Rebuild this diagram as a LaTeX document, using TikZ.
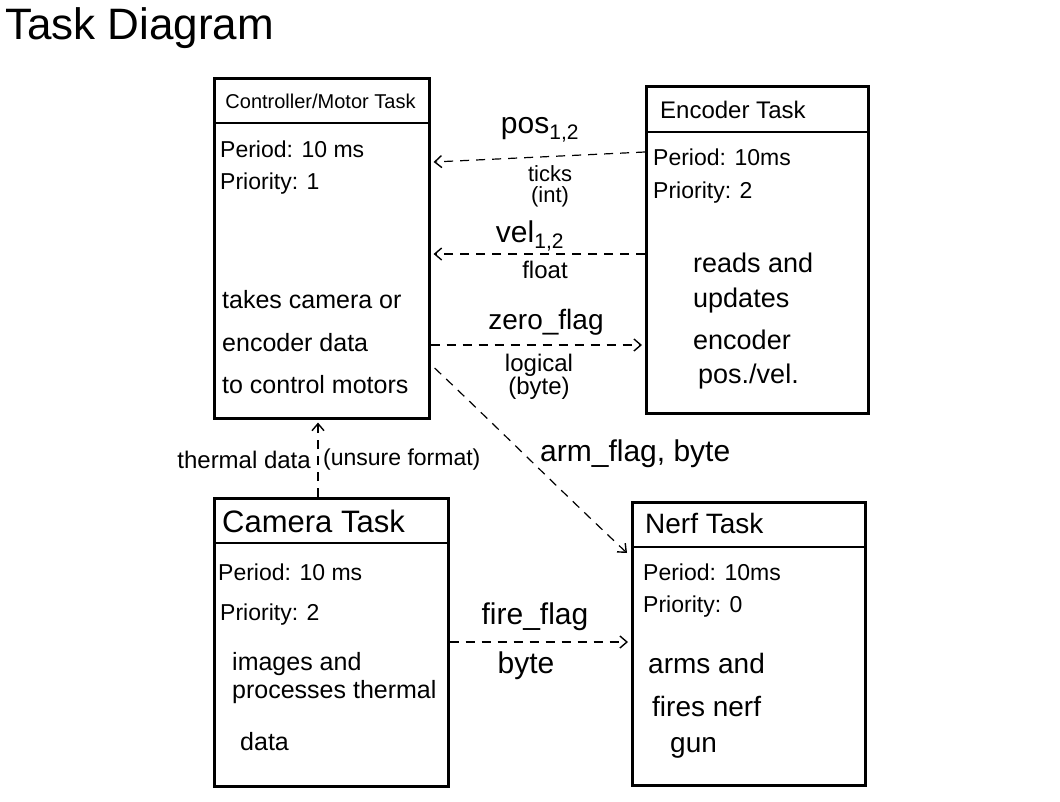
\documentclass[tikz,border=0pt]{standalone}
\usepackage{fontspec}
\setmainfont{Liberation Sans}
\usetikzlibrary{arrows.meta,calc}
\begin{document}
\begin{tikzpicture}[x=1pt,y=-1pt,
  taskbox/.style={draw=black,line width=2.6pt,rectangle,inner sep=0pt,anchor=north west},
  hdrline/.style={line width=2.4pt},
  conn/.style={line width=1.2pt,dash pattern=on 9pt off 7pt,-{Straight Barb[length=7pt,width=12pt,line width=1.4pt]}},
  txt/.style={inner sep=0pt,anchor=west,font=\fontsize{23}{25}\selectfont},
  lab/.style={inner sep=0pt,align=center}
]
\useasboundingbox[fill=white] (0,0) rectangle (1060,801);

% title
\node[inner sep=0pt,anchor=west,font=\fontsize{44}{46}\selectfont] (title) at (5,28) {Task Diagram};

% boxes
\node[taskbox,minimum width=215pt,minimum height=340pt] (ctrl) at (213,77) {};
\node[taskbox,minimum width=222pt,minimum height=327pt] (enc) at (645,85) {};
\node[taskbox,minimum width=234pt,minimum height=288pt] (cam) at (213,497) {};
\node[taskbox,minimum width=233pt,minimum height=283pt] (nerf) at (631,501) {};

\draw[hdrline] ([yshift=-46pt]ctrl.north west) -- ([yshift=-46pt]ctrl.north east);
\draw[hdrline] ([yshift=-47pt]enc.north west) -- ([yshift=-47pt]enc.north east);
\draw[hdrline] ([yshift=-46pt]cam.north west) -- ([yshift=-46pt]cam.north east);
\draw[hdrline] ([yshift=-46pt]nerf.north west) -- ([yshift=-46pt]nerf.north east);

% controller text
\node[inner sep=0pt,font=\fontsize{20}{22}\selectfont] (ctrlh) at (320.5,101) {Controller/Motor Task};
\node[txt] (ctrlp) at (220,149) {Period: 10 ms};
\node[txt] (ctrlr) at (220,184) {Priority: 1};
\node[txt,font=\fontsize{25}{27}\selectfont] (ctrl1) at (222,300) {takes camera or};
\node[txt,font=\fontsize{25}{27}\selectfont] (ctrl2) at (222,343) {encoder data};
\node[txt,font=\fontsize{25}{27}\selectfont] (ctrl3) at (222,385) {to control motors};

% encoder text
\node[txt,font=\fontsize{24}{26}\selectfont] (ench) at (660,110) {Encoder Task};
\node[txt] (encp) at (653,157) {Period: 10ms};
\node[txt] (encr) at (653,193) {Priority: 2};
\node[txt,font=\fontsize{27}{29}\selectfont] (enc1) at (693,263) {reads and};
\node[txt,font=\fontsize{27}{29}\selectfont] (enc2) at (693,301) {updates};
\node[txt,font=\fontsize{27}{29}\selectfont] (enc3) at (693,340) {encoder};
\node[txt,font=\fontsize{27}{29}\selectfont] (enc4) at (698,377) {pos./vel.};

% camera text
\node[txt,font=\fontsize{31}{33}\selectfont] (camh) at (222,521) {Camera Task};
\node[txt] (camp) at (218,572) {Period: 10 ms};
\node[txt] (camr) at (220,615) {Priority: 2};
\node[txt,font=\fontsize{25}{27}\selectfont] (cam1) at (232,664) {images and};
\node[txt,font=\fontsize{25}{27}\selectfont] (cam2) at (232,692) {processes thermal};
\node[txt,font=\fontsize{25}{27}\selectfont] (cam3) at (240,742) {data};

% nerf text
\node[txt,font=\fontsize{28}{30}\selectfont] (nerfh) at (645,523) {Nerf Task};
\node[txt] (nerfp) at (643,572) {Period: 10ms};
\node[txt] (nerfr) at (643,607) {Priority: 0};
\node[txt,font=\fontsize{28}{30}\selectfont] (nerf1) at (648,663) {arms and};
\node[txt,font=\fontsize{28}{30}\selectfont] (nerf2) at (652,706) {fires nerf};
\node[txt,font=\fontsize{28}{30}\selectfont] (nerf3) at (670,748) {gun};

% connectors
\draw[conn] ([yshift=-67pt]enc.north west) -- ([yshift=-85pt,xshift=3pt]ctrl.north east);
\draw[conn] ([yshift=-169pt]enc.north west) -- ([yshift=-177pt,xshift=3pt]ctrl.north east);
\draw[conn] ([yshift=-268pt]ctrl.north east) -- ([yshift=-260pt,xshift=-3pt]enc.north west);
\draw[conn] ([yshift=-291pt,xshift=4pt]ctrl.north east) .. controls (500,430) and (560,490) .. ([yshift=-52pt,xshift=-4pt]nerf.north west);
\draw[conn] ([xshift=105pt]cam.north west) -- ([xshift=105pt,yshift=-3pt]ctrl.south west);
\draw[conn] ([yshift=-145pt]cam.north east) -- ([yshift=-141pt,xshift=-3pt]nerf.north west);

% connector labels
\node[lab,font=\fontsize{30}{32}\selectfont] (lpos) at (540,130) {pos\textsubscript{1,2}};
\node[lab,font=\fontsize{22}{21}\selectfont] (ltick) at (550,186) {ticks\\(int)};
\node[lab,font=\fontsize{30}{32}\selectfont] (lvel) at (530,236) {vel\textsubscript{1,2}};
\node[lab,font=\fontsize{24}{26}\selectfont] (lfloat) at (545,270) {float};
\node[lab,font=\fontsize{28}{30}\selectfont] (lzero) at (546,322) {zero\_flag};
\node[lab,font=\fontsize{24}{22}\selectfont] (llog) at (539,377) {logical\\(byte)};
\node[lab,anchor=west,font=\fontsize{30}{32}\selectfont] (larm) at (540,454) {arm\_flag, byte};
\node[lab,anchor=east,font=\fontsize{24}{26}\selectfont] (lth) at (311,460) {thermal data};
\node[lab,anchor=west,font=\fontsize{23}{25}\selectfont] (lfmt) at (323,460) {(unsure format)};
\node[lab,font=\fontsize{30}{32}\selectfont] (lfire) at (535,617) {fire\_flag};
\node[lab,font=\fontsize{30}{32}\selectfont] (lbyte) at (526,666) {byte};
\end{tikzpicture}
\end{document}
